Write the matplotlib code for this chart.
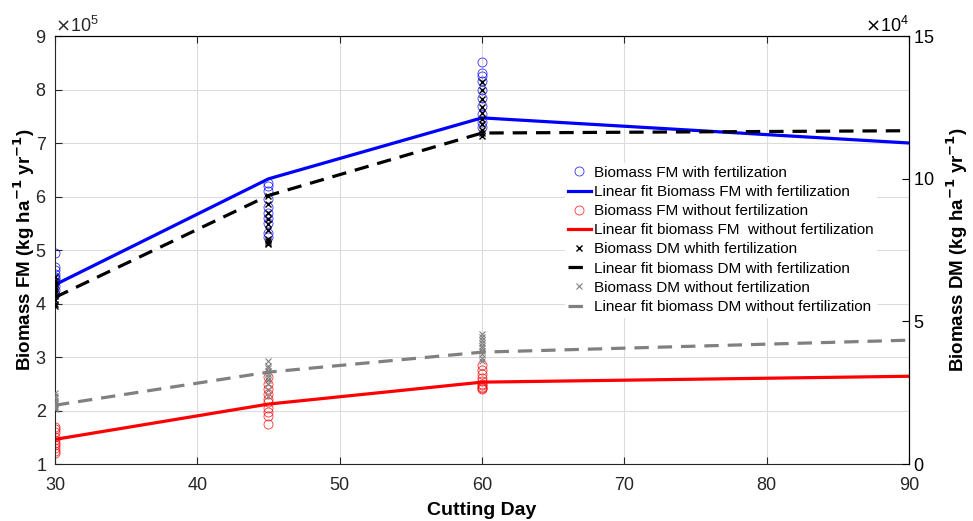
import numpy as np
import matplotlib.pyplot as plt
from matplotlib.ticker import ScalarFormatter

plt.rcParams['font.family'] = ['Liberation Sans', 'DejaVu Sans']

# cutting days where samples were taken
days = [30, 45, 60]
fit_days = [30, 45, 60, 90]

# fresh matter, kg/ha/yr
fm_fert = [
    [4.95e5, 4.69e5, 4.62e5, 4.55e5, 4.50e5, 4.45e5, 4.40e5, 4.32e5, 4.25e5, 4.18e5],
    [6.25e5, 6.20e5, 6.10e5, 5.95e5, 5.80e5, 5.70e5, 5.60e5, 5.50e5, 5.32e5, 5.25e5],
    [8.52e5, 8.30e5, 8.25e5, 8.15e5, 8.00e5, 7.85e5, 7.70e5, 7.55e5, 7.40e5, 7.30e5],
]
fm_nofert = [
    [1.70e5, 1.65e5, 1.60e5, 1.50e5, 1.45e5, 1.40e5, 1.35e5, 1.30e5, 1.25e5, 1.20e5],
    [2.62e5, 2.50e5, 2.40e5, 2.30e5, 2.22e5, 2.15e5, 2.05e5, 1.98e5, 1.90e5, 1.75e5],
    [2.85e5, 2.75e5, 2.68e5, 2.60e5, 2.55e5, 2.50e5, 2.47e5, 2.44e5, 2.42e5, 2.40e5],
]
# dry matter, kg/ha/yr
dm_fert = [
    [6.55e4, 6.40e4, 6.30e4, 6.20e4, 6.10e4, 6.00e4, 5.90e4, 5.75e4, 5.60e4, 5.55e4],
    [9.40e4, 9.10e4, 8.80e4, 8.60e4, 8.40e4, 8.20e4, 7.90e4, 7.80e4, 7.75e4, 7.70e4],
    [13.4e4, 13.1e4, 12.8e4, 12.5e4, 12.3e4, 12.1e4, 11.9e4, 11.7e4, 11.6e4, 11.5e4],
]
dm_nofert = [
    [2.50e4, 2.40e4, 2.30e4, 2.20e4, 2.15e4, 2.10e4, 2.05e4, 2.00e4, 1.95e4, 1.93e4],
    [3.60e4, 3.45e4, 3.35e4, 3.25e4, 3.15e4, 3.05e4, 2.95e4, 2.80e4, 2.60e4, 2.40e4],
    [4.55e4, 4.45e4, 4.35e4, 4.25e4, 4.15e4, 4.05e4, 3.95e4, 3.85e4, 3.70e4, 3.60e4],
]

# fitted curves
fit_fm_fert = [4.35e5, 6.33e5, 7.47e5, 7.00e5]
fit_fm_nofert = [1.46e5, 2.12e5, 2.53e5, 2.64e5]
fit_dm_fert = [5.84e4, 9.41e4, 11.6e4, 11.68e4]
fit_dm_nofert = [2.06e4, 3.22e4, 3.92e4, 4.34e4]


def flat(groups):
    xs = np.repeat(days, [len(g) for g in groups])
    ys = np.concatenate(groups)
    return xs, ys


dark = '#262626'
fig = plt.figure(figsize=(9.73, 5.21), dpi=100)
ax = fig.add_axes([0.0565, 0.1094, 0.8777, 0.8215])
ax2 = ax.twinx()

x, y = flat(fm_fert)
h1, = ax.plot(x, y, 'o', color='blue', mfc='none', ms=6.5, mew=0.6, alpha=0.8,
              label='Biomass FM with fertilization')
h2, = ax.plot(fit_days, fit_fm_fert, '-', color='blue', lw=2.3,
              label='Linear fit Biomass FM with fertilization')
x, y = flat(fm_nofert)
h3, = ax.plot(x, y, 'o', color='red', mfc='none', ms=6.5, mew=0.6, alpha=0.8,
              label='Biomass FM without fertilization')
h4, = ax.plot(fit_days, fit_fm_nofert, '-', color='red', lw=2.3,
              label='Linear fit biomass FM  without fertilization')

x, y = flat(dm_fert)
h5, = ax2.plot(x, y, 'x', color='black', ms=4.5, mew=1.0,
               label='Biomass DM whith fertilization')
h6, = ax2.plot(fit_days, fit_dm_fert, '--', color='black', lw=2.3,
               dashes=(4.5, 2.8), label='Linear fit biomass DM with fertilization')
x, y = flat(dm_nofert)
h7, = ax2.plot(x, y, 'x', color='gray', ms=4.5, mew=0.8,
               label='Biomass DM without fertilization')
h8, = ax2.plot(fit_days, fit_dm_nofert, '--', color='gray', lw=2.3,
               dashes=(4.5, 2.8), label='Linear fit biomass DM without fertilization')

ax.set_xlim(30, 90)
ax.set_ylim(1e5, 9e5)
ax2.set_ylim(0, 15e4)
ax.set_xticks(np.arange(30, 91, 10))
ax.set_yticks(np.arange(1e5, 9.1e5, 1e5))
ax2.set_yticks(np.arange(0, 15.1e4, 5e4))

for a, p in ((ax, 5), (ax2, 4)):
    fmt = ScalarFormatter(useMathText=True)
    fmt.set_powerlimits((p, p))
    a.yaxis.set_major_formatter(fmt)
    a.yaxis.get_offset_text().set_fontsize(13)

ax.grid(True, color='#dcdcdc', lw=0.8)
ax.set_axisbelow(True)
ax.tick_params(axis='both', direction='in', labelsize=13, colors=dark, length=5,
               top=True)
ax.tick_params(axis='x', pad=9)
ax.tick_params(axis='y', pad=6)
ax2.tick_params(axis='y', direction='in', labelsize=13, colors='black', length=5,
                pad=3)
ax.spines['left'].set_color(dark)
ax.spines['bottom'].set_color(dark)
ax2.spines['left'].set_visible(False)
ax2.spines['bottom'].set_visible(False)

ax.set_xlabel('Cutting Day', fontsize=14, fontweight='bold', labelpad=6)
ax.set_ylabel('Biomass FM (kg ha$^{\\mathbf{-1}}$ yr$^{\\mathbf{-1}}$)',
              fontsize=13.5, fontweight='bold')
ax2.set_ylabel('Biomass DM (kg ha$^{\\mathbf{-1}}$ yr$^{\\mathbf{-1}}$)',
               fontsize=13.5, fontweight='bold')
ax.yaxis.set_label_coords(-0.021, 0.5)
ax2.yaxis.set_label_coords(1.042, 0.5)

leg = ax2.legend(handles=[h1, h2, h3, h4, h5, h6, h7, h8], loc='upper left',
                 bbox_to_anchor=(0.588, 0.722), fontsize=11, handlelength=1.5,
                 handletextpad=0.2, labelspacing=0.34, borderpad=0.2,
                 frameon=True, fancybox=False, edgecolor='white',
                 facecolor='white', framealpha=1)

fig.savefig('out.png', dpi=100)
